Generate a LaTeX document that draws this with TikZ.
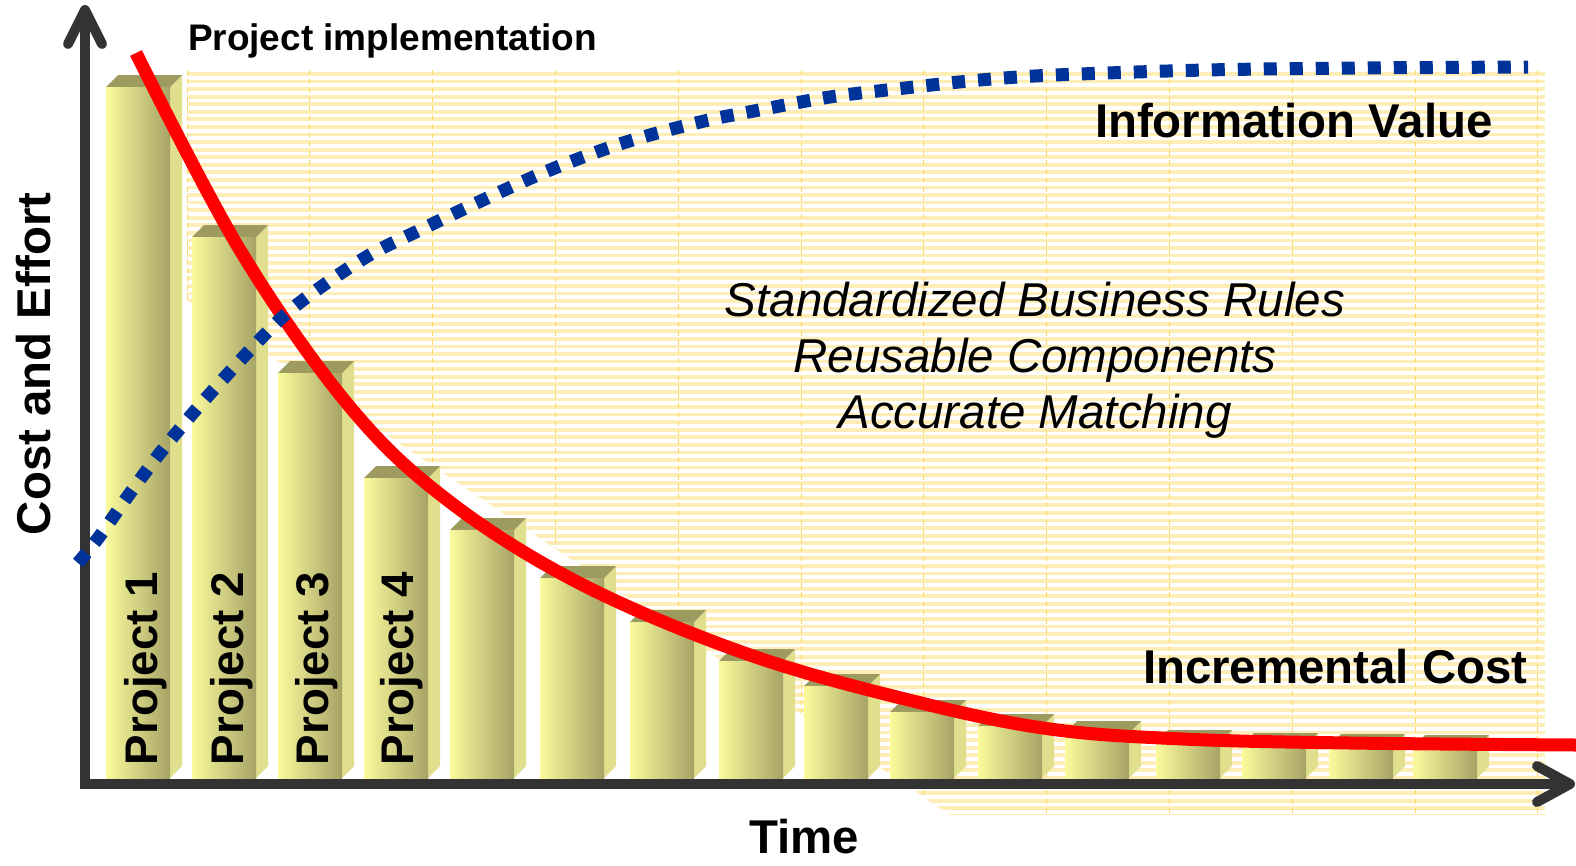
\documentclass[tikz,border=0pt]{standalone}
\usepackage{fontspec}
\setmainfont{Liberation Sans}
\definecolor{stripeC}{HTML}{FFEDB8}
\definecolor{gridC}{HTML}{FFD75E}
\definecolor{barL}{HTML}{FAFA9C}
\definecolor{barM}{HTML}{DAD886}
\definecolor{barR}{HTML}{A6A366}
\definecolor{sideC}{HTML}{E0DF8E}
\definecolor{topC}{HTML}{9D9B60}
\definecolor{axisC}{HTML}{333333}
\definecolor{curveR}{HTML}{FF0000}
\definecolor{curveB}{HTML}{003399}
\newcommand{\drawbar}[2]{%
  \fill[sideC] (#1+64,#2) -- ++(12,-12) -- (#1+76,766) -- (#1+64,778) -- cycle;
  \fill[topC] (#1,#2) -- ++(12,-12) -- ++(64,0) -- (#1+64,#2) -- cycle;
  \fill[left color=barL, middle color=barM, right color=barR] (#1,#2) rectangle (#1+64,778);}
\begin{document}
\begin{tikzpicture}[x=1pt,y=-1pt,
  lbl/.style={inner sep=0pt, outer sep=0pt, text=black},
  bigbold/.style={lbl, font=\fontsize{47.4}{56}\selectfont\bfseries},
  ital/.style={lbl, font=\fontsize{47.5}{56}\selectfont\itshape},
  projlbl/.style={lbl, rotate=90, anchor=base west, font=\fontsize{45.7}{54}\selectfont\bfseries},
  axisline/.style={draw=axisC, line width=10pt},
  chev/.style={draw=axisC, line width=10pt, line cap=round, line join=round}]
\useasboundingbox (0,0) rectangle (1576,865);
% striped back wall
\begin{scope}
  \clip (187,70) -- (1545,70) -- (1545,815) -- (950,815) -- (187,300) -- cycle;
  \foreach \i in {0,...,98} {
    \fill[stripeC] (187,72+7.57*\i) rectangle ++(1358,3.8);
  }
  \foreach \gx in {187,309.8,432.6,555.4,678.2,801,923.8,1046.6,1169.4,1292.2,1415,1537.8} {
    \draw[gridC, line width=0.7pt, dash pattern=on 5pt off 4pt] (\gx,70) -- (\gx,815);
  }
\end{scope}
% bars
\drawbar{106}{87}
\drawbar{192}{237}
\drawbar{278}{373}
\drawbar{364}{478}
\drawbar{450}{530}
\drawbar{540}{578}
\drawbar{630}{622}
\drawbar{719}{661}
\drawbar{804}{686}
\drawbar{890}{712}
\drawbar{978}{726}
\drawbar{1065}{733}
\drawbar{1156}{742}
\drawbar{1242}{745}
\drawbar{1329}{746}
\drawbar{1413}{747}
% axes
\coordinate (ytip) at (85,10);
\coordinate (orig) at (85,784);
\coordinate (xtip) at (1570,784);
\draw[axisline, line join=miter] (ytip) -- (orig) -- (xtip);
\draw[chev] (68,44) -- (ytip) -- (102,44);
\draw[chev] (1537,766) -- (xtip) -- (1537,802);
% incremental cost curve
\draw[curveR, line width=13pt, line cap=butt] plot[smooth, tension=0.6] coordinates {
  (136,53) (240,250) (350,407) (450,502) (583,585) (750,655)
  (917,702) (1050,729) (1183,739) (1350,743) (1576,745)};
% information value curve
\draw[curveB, line width=13pt, line cap=butt, dash pattern=on 13pt off 13pt] plot[smooth, tension=0.55] coordinates {
  (78,563) (99,537) (128,496) (160,453) (200,405) (250,350) (287,313)
  (328,282) (373,253) (420,230) (468,207) (545,172) (623,143) (700,122)
  (754,111) (830,97) (905,88) (980,80) (1055,75) (1206,70) (1360,68) (1528,67)};
% texts
\node[lbl, anchor=base west, font=\fontsize{37}{44}\selectfont\bfseries] (impl) at (188,50) {Project implementation};
\node[bigbold, anchor=base west] (info) at (1095,137) {Information Value};
\node[ital, anchor=base] (t1) at (1035,316) {Standardized Business Rules};
\node[ital, anchor=base] (t2) at (1035,372) {Reusable Components};
\node[ital, anchor=base] (t3) at (1035,428) {Accurate Matching};
\node[bigbold, anchor=base west] (inc) at (1143,683) {Incremental Cost};
\node[bigbold, anchor=base west] (time) at (749,853) {Time};
\node[bigbold, anchor=base west, rotate=90] (cost) at (50,535) {Cost and Effort};
\node[projlbl] (p1) at (157,765) {Project 1};
\node[projlbl] (p2) at (243,765) {Project 2};
\node[projlbl] (p3) at (328,765) {Project 3};
\node[projlbl] (p4) at (413,765) {Project 4};
\end{tikzpicture}
\end{document}
